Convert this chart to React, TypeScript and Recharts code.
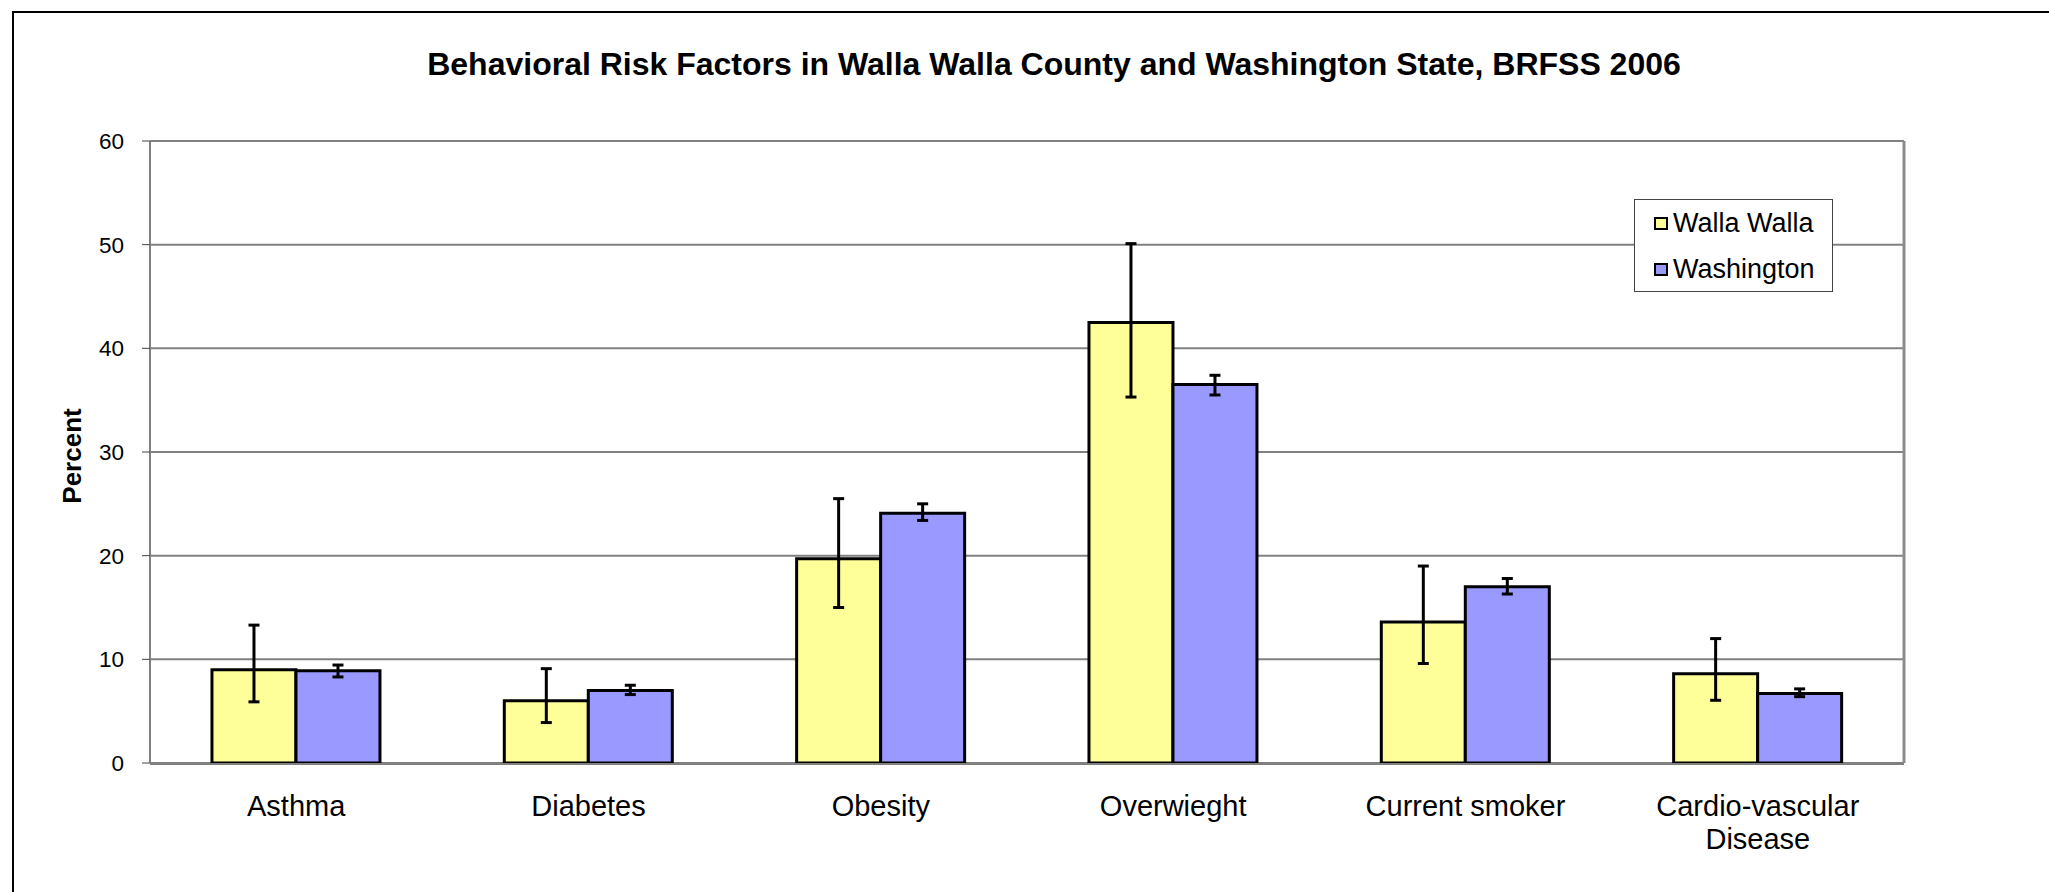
import { BarChart, Bar, XAxis, YAxis, CartesianGrid, ErrorBar, Legend } from "recharts";

const FONT = "'Liberation Sans', Arial, sans-serif";

const categories = ["Asthma", "Diabetes", "Obesity", "Overwieght", "Current smoker", "Cardio-vascular\nDisease"];
const wallaWalla = [9.0, 6.0, 19.7, 42.5, 13.6, 8.6];
const wallaWallaLow = [5.9, 3.9, 15.0, 35.3, 9.6, 6.05];
const wallaWallaHigh = [13.3, 9.1, 25.5, 50.1, 19.0, 12.0];
const washington = [8.9, 7.0, 24.1, 36.5, 17.0, 6.7];
const washingtonLow = [8.3, 6.6, 23.4, 35.5, 16.3, 6.4];
const washingtonHigh = [9.45, 7.5, 25.0, 37.4, 17.8, 7.15];
const yTicks = [0, 10, 20, 30, 40, 50, 60];
const boundaryTicks = [0, 1, 2, 3, 4, 5, 6];

const series = [
  { key: "ww", name: "Walla Walla", color: "#FFFF99" },
  { key: "wa", name: "Washington", color: "#9999FF" },
];

const data = categories.map((name, i) => ({
  name,
  ww: wallaWalla[i],
  wa: washington[i],
  wwErr: [wallaWalla[i] - wallaWallaLow[i], wallaWallaHigh[i] - wallaWalla[i]],
  waErr: [washington[i] - washingtonLow[i], washingtonHigh[i] - washington[i]],
}));

function CategoryTick({ x, y, payload }: any) {
  const lines = String(payload.value).split("\n");
  return (
    <text x={x} y={y} textAnchor="middle" fontSize={29} fill="#000" fontFamily={FONT}>
      {lines.map((l, i) => (
        <tspan key={i} x={x} dy={i === 0 ? 52 : 33}>
          {l}
        </tspan>
      ))}
    </text>
  );
}

function ValueTick({ x, y, payload }: any) {
  return (
    <text x={x} y={y} dy="0.36em" textAnchor="end" fontSize={22.5} fill="#000" fontFamily={FONT}>
      {payload.value}
    </text>
  );
}

function YTitle({ viewBox }: any) {
  const cx = viewBox.x - 18;
  const cy = viewBox.y + viewBox.height / 2 + 4;
  return (
    <text
      x={cx}
      y={cy}
      transform={`rotate(-90 ${cx} ${cy})`}
      textAnchor="middle"
      dominantBaseline="central"
      fontSize={26}
      fontWeight="bold"
      fill="#000"
      fontFamily={FONT}
    >
      Percent
    </text>
  );
}

function LegendBox() {
  return (
    <div
      style={{
        width: 199,
        height: 93,
        boxSizing: "border-box",
        border: "1.5px solid #444",
        background: "#fff",
        fontFamily: FONT,
        fontSize: 27,
        color: "#000",
      }}
    >
      {series.map((s) => (
        <div key={s.key} style={{ display: "flex", alignItems: "center", height: 46, paddingLeft: 19 }}>
          <span
            style={{
              width: 14,
              height: 13,
              boxSizing: "border-box",
              border: "2px solid #000",
              background: s.color,
              marginRight: 5,
            }}
          />
          {s.name}
        </div>
      ))}
    </div>
  );
}

export default function App() {
  return (
    <div style={{ position: "absolute", left: 0, top: 0, width: 2049, height: 892, overflow: "hidden", background: "#fff" }}>
      <div
        style={{
          position: "absolute",
          left: 12,
          top: 11,
          width: 2100,
          height: 1000,
          borderLeft: "2px solid #000",
          borderTop: "2px solid #000",
        }}
      />
      <div
        style={{
          position: "absolute",
          left: 1054,
          top: 48,
          transform: "translateX(-50%)",
          whiteSpace: "nowrap",
          fontFamily: FONT,
          fontWeight: "bold",
          fontSize: 32,
          lineHeight: "32px",
          color: "#000",
        }}
      >
        Behavioral Risk Factors in Walla Walla County and Washington State, BRFSS 2006
      </div>
      <div style={{ position: "absolute", left: 0, top: 0 }}>
        <BarChart
          width={2049}
          height={892}
          data={data}
          margin={{ top: 141, right: 144, left: 90, bottom: 68 }}
          barCategoryGap="21.2%"
          barGap={0}
        >
          <CartesianGrid vertical={false} stroke="#808080" strokeWidth={2} />
          <XAxis
            xAxisId="bounds"
            type="number"
            domain={[0, 6]}
            ticks={boundaryTicks}
            height={1}
            axisLine={false}
            tick={false}
            tickSize={8}
            tickLine={{ stroke: "#808080", strokeWidth: 2 }}
          />
          <XAxis
            xAxisId="cat"
            dataKey="name"
            height={60}
            axisLine={{ stroke: "#808080", strokeWidth: 2 }}
            tickLine={false}
            tickSize={0}
            tickMargin={0}
            tick={<CategoryTick />}
            interval={0}
          />
          <YAxis
            domain={[0, 60]}
            ticks={yTicks}
            width={60}
            axisLine={{ stroke: "#808080", strokeWidth: 2 }}
            tickLine={{ stroke: "#444", strokeWidth: 1 }}
            tickSize={8}
            tickMargin={18}
            tick={<ValueTick />}
            label={{ content: <YTitle /> }}
          />
          <YAxis
            yAxisId="right"
            orientation="right"
            domain={[0, 60]}
            width={1}
            tick={false}
            tickLine={false}
            axisLine={{ stroke: "#8c8c8c", strokeWidth: 3 }}
          />
          <Legend
            layout="vertical"
            align="center"
            verticalAlign="middle"
            content={<LegendBox />}
            wrapperStyle={{ left: 1634, top: 199, width: 199, height: 93 }}
          />
          {series.map((s) => (
            <Bar
              key={s.key}
              xAxisId="cat"
              dataKey={s.key}
              name={s.name}
              fill={s.color}
              stroke="#000"
              strokeWidth={3}
              isAnimationActive={false}
            >
              <ErrorBar dataKey={`${s.key}Err`} width={5.5} stroke="#000" strokeWidth={3} direction="y" />
            </Bar>
          ))}
        </BarChart>
      </div>
    </div>
  );
}
